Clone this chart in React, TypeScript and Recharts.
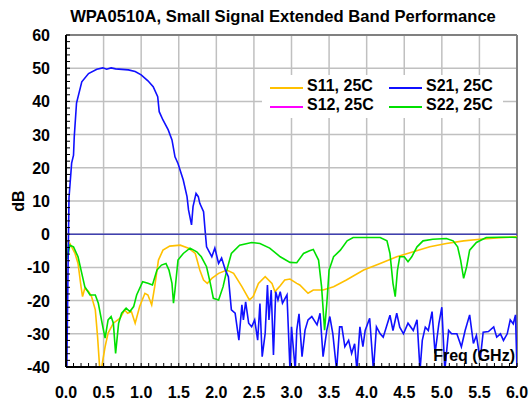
import {
  LineChart,
  Line,
  XAxis,
  YAxis,
  CartesianGrid,
  ReferenceLine,
} from 'recharts';

// [freq GHz, dB]
const S11: [number, number][] = [
  [0, -1.8], [0.05, -2.7], [0.12, -5.8], [0.16, -8.8], [0.2, -15.8], [0.22, -18.8],
  [0.25, -16.3], [0.3, -17.3], [0.34, -18.8], [0.39, -22.8], [0.42, -30.9], [0.45, -41],
  [0.47, -41], [0.49, -37.9], [0.52, -33.9], [0.56, -29.8], [0.63, -26.8], [0.72, -25.3],
  [0.78, -22.8], [0.82, -23.8], [0.87, -23.3], [0.92, -26.8], [0.98, -21.8], [1.05, -17.8],
  [1.09, -18.3], [1.14, -21.3], [1.18, -15.8], [1.23, -7.8], [1.29, -4.8], [1.38, -3.6],
  [1.52, -3.3], [1.63, -4.2], [1.72, -5.8], [1.78, -10.8], [1.83, -13.8], [1.88, -14.8],
  [1.94, -13.3], [2.03, -11.8], [2.14, -10.8], [2.23, -11.8], [2.34, -15.8], [2.44, -19.8],
  [2.49, -18.8], [2.56, -14.8], [2.65, -12.8], [2.74, -14.8], [2.78, -17.3], [2.85, -15.5],
  [2.91, -13.8], [2.98, -13.5], [3.07, -14.8], [3.11, -15.3], [3.22, -17.8], [3.29, -16.8],
  [3.42, -16.8], [3.56, -15.8], [3.73, -13.8], [3.96, -10.8], [4.18, -8.8], [4.4, -6.8],
  [4.62, -5.3], [4.84, -3.8], [5.06, -2.8], [5.29, -2.0], [5.51, -1.5], [5.73, -1.1],
  [6.0, -0.8],
];

const S21: [number, number][] = [
  [0.01, -42], [0.03, -5], [0.04, 11], [0.075, 21.4], [0.1, 23.8], [0.11, 29.4],
  [0.14, 39.5], [0.21, 45.9], [0.3, 48.4], [0.41, 49.7], [0.49, 50.1], [0.54, 49.7],
  [0.6, 50.1], [0.66, 49.8], [0.83, 49.5], [0.92, 49], [1.0, 48], [1.09, 46.2],
  [1.16, 44.4], [1.22, 41.4], [1.24, 36.9], [1.29, 34.4], [1.36, 31.4], [1.41, 28.4],
  [1.45, 23.3], [1.49, 21.3], [1.56, 16.3], [1.61, 11.3], [1.63, 7.3], [1.67, 2.8],
  [1.69, 8.3], [1.73, 12.3], [1.76, 11.3], [1.78, 9.3], [1.83, 6.8], [1.85, 1.3],
  [1.87, -3.8], [1.94, -6.8], [1.98, -4.2], [2.03, -8.8], [2.07, -7.2], [2.12, -10.8],
  [2.16, -12.8], [2.2, -22.8], [2.25, -23.8], [2.3, -31.9], [2.34, -21.3], [2.36, -25.8],
  [2.39, -20.4], [2.43, -26.8], [2.47, -27.9], [2.51, -25.8], [2.55, -31.9], [2.58, -20.9],
  [2.61, -36.9], [2.65, -29.8], [2.68, -15.3], [2.7, -25.8], [2.73, -16.8], [2.76, -36.4],
  [2.79, -17.3], [2.82, -19.8], [2.85, -17.3], [2.88, -20.8], [2.94, -18.3], [2.98, -41],
  [3.0, -27.9], [3.05, -41], [3.07, -28.9], [3.1, -24], [3.14, -36.9], [3.18, -28.9],
  [3.22, -25.8], [3.27, -24.8], [3.34, -27.3], [3.38, -23.8], [3.42, -36.9], [3.47, -28.9],
  [3.51, -24.8], [3.55, -30], [3.6, -41], [3.64, -27.9], [3.67, -27.9], [3.71, -33.9],
  [3.76, -32], [3.8, -35.9], [3.84, -33], [3.87, -41], [3.91, -27.9], [3.95, -33.9],
  [3.98, -29], [4.04, -25.3], [4.09, -41], [4.13, -27.9], [4.18, -30], [4.22, -31],
  [4.31, -24.4], [4.35, -29], [4.4, -23.8], [4.44, -28], [4.49, -30], [4.55, -26.8],
  [4.62, -29], [4.67, -25.8], [4.71, -41], [4.74, -32], [4.78, -28], [4.82, -29],
  [4.87, -23.3], [4.91, -35.9], [4.96, -27], [5.0, -22], [5.04, -41], [5.09, -29],
  [5.13, -30], [5.2, -30], [5.26, -33.9], [5.31, -29], [5.37, -24.3], [5.42, -32.9],
  [5.46, -30.5], [5.51, -37.9], [5.55, -29.5], [5.62, -29.3], [5.69, -27.9], [5.73, -31],
  [5.78, -30], [5.82, -32], [5.87, -30], [5.91, -25.8], [5.95, -27], [5.98, -24.3],
  [6.0, -41],
];

const S22: [number, number][] = [
  [0, -1], [0.02, -7.5], [0.05, -3.3], [0.1, -3.8], [0.16, -6.8], [0.21, -11.8],
  [0.25, -15.8], [0.32, -18.3], [0.39, -18.3], [0.43, -20.8], [0.48, -26.8], [0.52, -31.3],
  [0.56, -25.8], [0.6, -24.8], [0.63, -26.8], [0.66, -35.9], [0.7, -26.8], [0.74, -23.8],
  [0.8, -22.3], [0.85, -23.3], [0.9, -21.8], [0.94, -18.3], [1.02, -14.3], [1.09, -14.8],
  [1.15, -15.3], [1.21, -10.8], [1.27, -9.3], [1.33, -8.8], [1.37, -10.8], [1.41, -14.8],
  [1.43, -20.8], [1.45, -16.8], [1.49, -7.8], [1.56, -5.8], [1.65, -4.2], [1.74, -5.3],
  [1.8, -6.8], [1.87, -9.8], [1.92, -14.8], [1.96, -19.3], [2.03, -19.8], [2.09, -15.8],
  [2.14, -10.8], [2.2, -5.8], [2.31, -3.3], [2.47, -2.5], [2.58, -2.8], [2.71, -4.2],
  [2.85, -6.8], [2.98, -8.5], [3.07, -8.6], [3.16, -5.8], [3.24, -5], [3.29, -4.6],
  [3.36, -7.8], [3.4, -15.8], [3.44, -28.9], [3.47, -20.8], [3.5, -10.8], [3.56, -6.8],
  [3.65, -4.8], [3.74, -2.0], [3.82, -1.0], [4.0, -1], [4.18, -1], [4.27, -2],
  [4.31, -5.8], [4.35, -14.8], [4.38, -18.8], [4.41, -10.8], [4.44, -6.8], [4.5, -6.8],
  [4.55, -8.3], [4.6, -6.8], [4.67, -3.8], [4.75, -2], [4.88, -1.5], [5.06, -1.3],
  [5.15, -2], [5.21, -3.8], [5.25, -7.8], [5.29, -13.3], [5.33, -9.8], [5.37, -4.8],
  [5.46, -2.5], [5.59, -1], [5.77, -0.9], [5.94, -0.9], [6.0, -1],
];

const MAJOR_FREQ = [0, 0.5, 1, 1.5, 2, 2.5, 3, 3.5, 4, 4.5, 5, 5.5, 6];
const MAJOR_DB = [-40, -30, -20, -10, 0, 10, 20, 30, 40, 50, 60];
const MINOR_FREQ = Array.from({ length: 61 }, (_, i) => i / 10);
const MINOR_DB = Array.from({ length: 51 }, (_, i) => -40 + i * 2);

const LEGEND = [
  { name: 'S11, 25C', color: '#FFC000' },
  { name: 'S21, 25C', color: '#1010FF' },
  { name: 'S12, 25C', color: '#FF00FF' },
  { name: 'S22, 25C', color: '#00E000' },
];

const FONT = '"Liberation Sans", Arial, sans-serif';

const toRows = (pts: [number, number][]) => pts.map(([f, db]) => ({ f, db }));

function XTick(props: any) {
  const { x, y, payload } = props;
  const v = payload.value;
  const major = Math.abs(v * 2 - Math.round(v * 2)) < 1e-6;
  return (
    <g>
      <line x1={x} x2={x} y1={y} y2={y - 4} stroke="#000" strokeWidth={1} />
      {major && (
        <text x={x} y={y + 31} textAnchor="middle" fontSize={16} fontWeight="bold" fontFamily={FONT} fill="#000">
          {v.toFixed(1)}
        </text>
      )}
    </g>
  );
}

function YTick(props: any) {
  const { x, y, payload } = props;
  const v = payload.value;
  const major = v % 10 === 0;
  return (
    <g>
      <line x1={x} x2={x + 4} y1={y} y2={y} stroke="#000" strokeWidth={1} />
      {major && (
        <text x={x - 16} y={y + 6} textAnchor="end" fontSize={16} fontWeight="bold" fontFamily={FONT} fill="#000">
          {v}
        </text>
      )}
    </g>
  );
}

export default function App() {
  return (
    <div style={{ position: 'absolute', left: 0, top: 0, width: 531, height: 404, background: '#fff', fontFamily: FONT }}>
      <div
        style={{
          position: 'absolute', left: 0, top: 7, width: 566, textAlign: 'center',
          fontSize: 16.6, fontWeight: 'bold', lineHeight: '20px',
        }}
      >
        WPA0510A, Small Signal Extended Band Performance
      </div>
      <LineChart width={531} height={404} margin={{ top: 35, right: 14, bottom: 0, left: 0 }}>
        <CartesianGrid stroke="#C0C0C0" strokeWidth={1.5} verticalValues={MAJOR_FREQ} horizontalValues={MAJOR_DB} />
        <XAxis
          dataKey="f"
          type="number"
          domain={[0, 6]}
          ticks={MINOR_FREQ}
          interval={0}
          height={37}
          tickSize={0}
          tickMargin={0}
          tick={<XTick />}
          axisLine={{ stroke: '#000', strokeWidth: 2 }}
          allowDataOverflow
          label={{
            content: ({ viewBox }: any) => (
              <text
                x={viewBox.x + viewBox.width - 2}
                y={viewBox.y - 6}
                textAnchor="end"
                fontSize={16}
                fontWeight="bold"
                fontFamily={FONT}
                fill="#000"
              >
                Freq (GHz)
              </text>
            ),
          }}
        />
        <YAxis
          type="number"
          domain={[-40, 60]}
          ticks={MINOR_DB}
          interval={0}
          width={66}
          tickSize={0}
          tickMargin={0}
          tick={<YTick />}
          axisLine={{ stroke: '#000', strokeWidth: 2 }}
          allowDataOverflow
          label={{
            content: ({ viewBox }: any) => {
              const cx = viewBox.x + 18;
              const cy = viewBox.y + viewBox.height / 2;
              return (
                <text
                  x={cx}
                  y={cy}
                  transform={`rotate(-90 ${cx} ${cy})`}
                  textAnchor="middle"
                  dominantBaseline="central"
                  fontSize={16}
                  fontWeight="bold"
                  fontFamily={FONT}
                  fill="#000"
                >
                  dB
                </text>
              );
            },
          }}
        />
        <ReferenceLine y={60} stroke="#808080" strokeWidth={2} />
        <ReferenceLine x={6} stroke="#808080" strokeWidth={2} />
        <Line data={toRows(S11)} dataKey="db" stroke="#FFC000" strokeWidth={1.6} dot={false} isAnimationActive={false} />
        <Line data={toRows(S22)} dataKey="db" stroke="#00E000" strokeWidth={1.6} dot={false} isAnimationActive={false} />
        <Line data={toRows(S21)} dataKey="db" stroke="#1010FF" strokeWidth={1.6} dot={false} isAnimationActive={false} />
        <ReferenceLine y={0} stroke="#4040B0" strokeWidth={1.5} />
      </LineChart>
      <div
        style={{
          position: 'absolute', left: 262, top: 75, width: 241, height: 43, background: '#fff',
          fontSize: 16, fontWeight: 'bold',
        }}
      >
        {LEGEND.map((item, i) => {
          const col = i % 2;
          const row = i < 2 ? 0 : 1;
          const left = col === 0 ? 8 : 127;
          const top = row === 0 ? 13 : 32;
          return (
            <div key={item.name}>
              <div style={{ position: 'absolute', left, top: top - 1, width: 33, height: 2, background: item.color }} />
              <div style={{ position: 'absolute', left: left + 37, top: top - 12, lineHeight: '20px', whiteSpace: 'nowrap' }}>
                {item.name}
              </div>
            </div>
          );
        })}
      </div>
    </div>
  );
}
